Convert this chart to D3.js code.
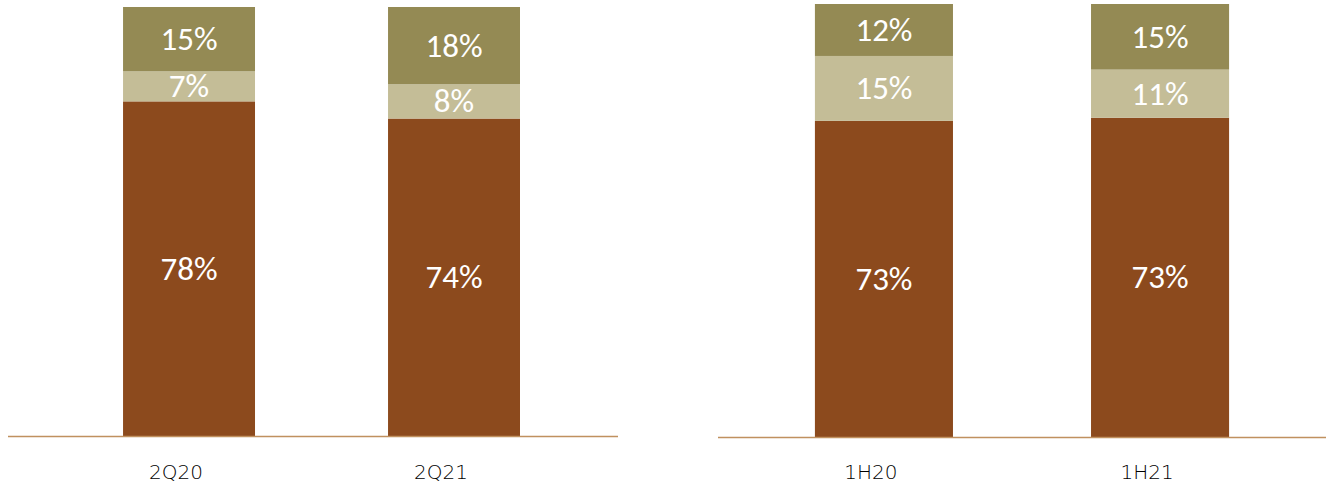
<!DOCTYPE html>
<html lang="en">
<head>
    <meta charset="UTF-8">
    <script src="https://d3js.org/d3.v7.min.js"></script>
    <style>
        body { margin: 0; background: #fff; }
        text { font-family: Carlito, Lato, "Open Sans", sans-serif; }
        text.cat { font-family: "DejaVu Sans", sans-serif; }
    </style>
</head>
<body>
    <svg id="chart" width="1326" height="486"></svg>
    <script>
        // data, bottom to top: base / middle / top share
        const quarterCats = ["2Q20", "2Q21"];
        const quarterBase = [78, 74];
        const quarterMid = [7, 8];
        const quarterTop = [15, 18];

        const halfCats = ["1H20", "1H21"];
        const halfBase = [73, 73];
        const halfMid = [15, 11];
        const halfTop = [12, 15];

        const keys = ["base", "mid", "top"];
        const colors = { base: "#8C4A1D", mid: "#C4BD97", top: "#948A54" };

        const svg = d3.select("#chart");

        const panels = [
            { cats: quarterCats, base: quarterBase, mid: quarterMid, top: quarterTop,
              x0: 8, x1: 618, y0: 436, y1: 7, padIn: 0.502, padOut: 0.402, align: 0.54 },
            { cats: halfCats, base: halfBase, mid: halfMid, top: halfTop,
              x0: 718, x1: 1326, y0: 437, y1: 4, padIn: 0.5, padOut: 0.351, align: 0.5 }
        ];

        panels.forEach(p => {
            const rows = p.cats.map((c, i) => ({ cat: c, base: p.base[i], mid: p.mid[i], top: p.top[i] }));

            // shares are rounded, so normalise each bar to full height
            const series = d3.stack().keys(keys).offset(d3.stackOffsetExpand)(rows);

            const x = d3.scaleBand()
                .domain(p.cats)
                .range([p.x0, p.x1])
                .paddingInner(p.padIn)
                .paddingOuter(p.padOut)
                .align(p.align);

            const y = d3.scaleLinear().domain([0, 1]).range([p.y0, p.y1]);

            const g = svg.append("g");

            const layer = g.selectAll(".layer")
                .data(series)
                .enter().append("g")
                .attr("fill", d => colors[d.key]);

            layer.selectAll("rect")
                .data(d => d)
                .enter().append("rect")
                .attr("x", d => x(d.data.cat))
                .attr("y", d => y(d[1]))
                .attr("width", x.bandwidth())
                .attr("height", d => y(d[0]) - y(d[1]));

            layer.selectAll("text")
                .data(d => d.map(v => ({ v, key: d.key })))
                .enter().append("text")
                .attr("x", d => x(d.v.data.cat) + x.bandwidth() / 2)
                .attr("y", d => (y(d.v[0]) + y(d.v[1])) / 2)
                .attr("text-anchor", "middle")
                .attr("dominant-baseline", "central")
                .attr("fill", "#fff")
                .style("font-size", "33px")
                .text(d => d.v.data[d.key] + "%");

            // baseline
            g.append("line")
                .attr("x1", p.x0).attr("x2", p.x1)
                .attr("y1", p.y0 + 0.5).attr("y2", p.y0 + 0.5)
                .attr("stroke", "#C0915F")
                .attr("stroke-width", 1.5);

            g.selectAll(".cat")
                .data(p.cats)
                .enter().append("text")
                .attr("class", "cat")
                .attr("x", d => x(d) + x.bandwidth() / 2 - 13)
                .attr("y", 479)
                .attr("text-anchor", "middle")
                .attr("fill", "#000")
                .style("font-size", "20px")
                .style("font-weight", 200)
                .text(d => d);
        });
    </script>
</body>
</html>
